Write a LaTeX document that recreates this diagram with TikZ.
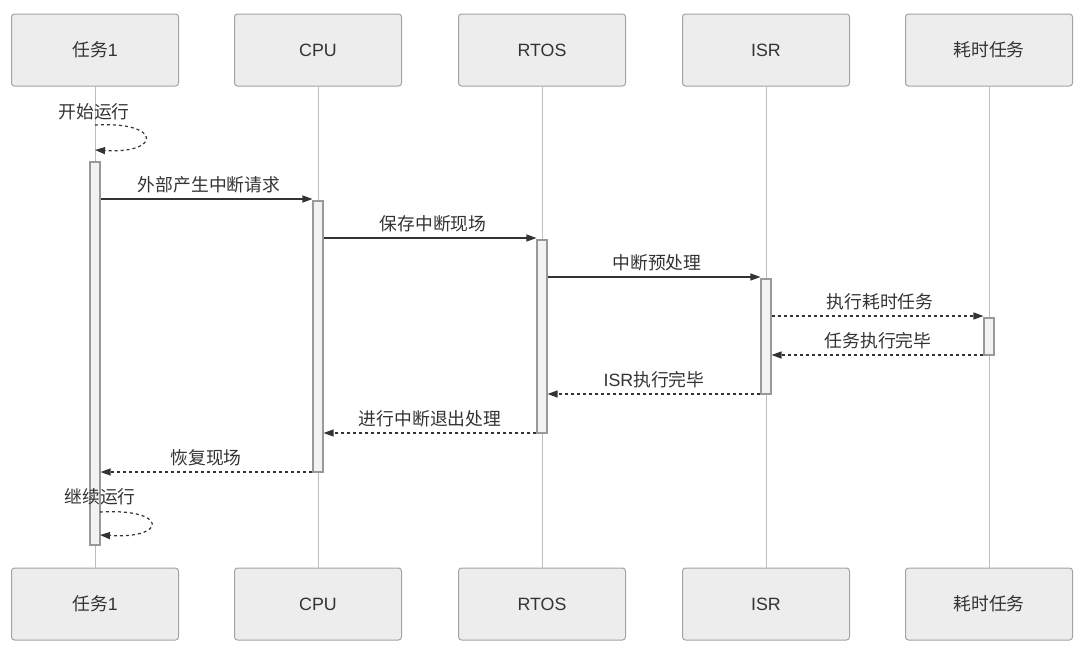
\documentclass[tikz,border=0pt]{standalone}
\usepackage{fontspec}
\setmainfont{Noto Sans CJK SC}
\newfontfamily\latinfont{Liberation Sans}
\usetikzlibrary{arrows.meta}
\definecolor{boxfill}{HTML}{EDEDED}
\definecolor{boxborder}{HTML}{A3A3A3}
\definecolor{textc}{HTML}{333333}
\definecolor{lifec}{HTML}{BDBDBD}
\definecolor{barfill}{HTML}{F2F2F2}
\definecolor{barborder}{HTML}{999999}
\definecolor{msgc}{HTML}{333333}
\tikzset{
  actor/.style={draw=boxborder, fill=boxfill, rounded corners=3pt, minimum width=167pt, minimum height=72pt, line width=1pt, font=\fontsize{17.8}{20}\selectfont, text=textc, inner sep=0pt},
  lifeline/.style={draw=lifec, line width=0.9pt},
  actbar/.style={draw=barborder, fill=barfill, line width=1.1pt, minimum width=10pt, inner sep=0pt},
  msg/.style={-{Triangle[length=10pt,width=7pt]}, draw=msgc, line width=1.2pt},
  ret/.style={msg, dash pattern=on 3pt off 3pt},
  lbl/.style={font=\fontsize{17.8}{20}\selectfont, text=textc, inner sep=0pt}
}
\begin{document}
\begin{tikzpicture}[x=1pt,y=-1pt]
\useasboundingbox (0,0) rectangle (1086,656);
% actors
\node[actor] (t1) at (95,50) {任务{\latinfont 1}};
\node[actor] (cpu) at (318,50) {\latinfont CPU};
\node[actor] (rtos) at (542,50) {\latinfont RTOS};
\node[actor] (isr) at (766,50) {\latinfont ISR};
\node[actor] (hs) at (989,50) {耗时任务};
\node[actor] (t1b) at (95,604) {任务{\latinfont 1}};
\node[actor] (cpub) at (318,604) {\latinfont CPU};
\node[actor] (rtosb) at (542,604) {\latinfont RTOS};
\node[actor] (isrb) at (766,604) {\latinfont ISR};
\node[actor] (hsb) at (989,604) {耗时任务};
% lifelines
\draw[lifeline] (t1.south) -- (t1b.north);
\draw[lifeline] (cpu.south) -- (cpub.north);
\draw[lifeline] (rtos.south) -- (rtosb.north);
\draw[lifeline] (isr.south) -- (isrb.north);
\draw[lifeline] (hs.south) -- (hsb.north);
% activation bars
\node[actbar, minimum height=383pt] (a1) at (95,353.5) {};
\node[actbar, minimum height=271pt] (a2) at (318,336.5) {};
\node[actbar, minimum height=193pt] (a3) at (542,336.5) {};
\node[actbar, minimum height=115pt] (a4) at (766,336.5) {};
\node[actbar, minimum height=37pt] (a5) at (989,336.5) {};
% self loop 1
\coordinate (s1) at (95,125);
\coordinate (e1) at (95,150);
\draw[ret] (s1) .. controls (162,121) and (162,154) .. (e1);
\node[lbl] (l0) at (94,112) {开始运行};
% messages
\draw[msg] (a1.east |- 0,199) -- (a2.west |- 0,199);
\node[lbl] (l1) at (209,185) {外部产生中断请求};
\draw[msg] (a2.east |- 0,238) -- (a3.west |- 0,238);
\node[lbl] (l2) at (433,224) {保存中断现场};
\draw[msg] (a3.east |- 0,277) -- (a4.west |- 0,277);
\node[lbl] (l3) at (657,263) {中断预处理};
\draw[ret] (a4.east |- 0,316) -- (a5.west |- 0,316);
\node[lbl] (l4) at (880,302) {执行耗时任务};
\draw[ret] (a5.west |- 0,355) -- (a4.east |- 0,355);
\node[lbl] (l5) at (878,341) {任务执行完毕};
\draw[ret] (a4.west |- 0,394) -- (a3.east |- 0,394);
\node[lbl] (l6) at (654,380) {{\latinfont ISR}执行完毕};
\draw[ret] (a3.west |- 0,433) -- (a2.east |- 0,433);
\node[lbl] (l7) at (430,419) {进行中断退出处理};
\draw[ret] (a2.west |- 0,472) -- (a1.east |- 0,472);
\node[lbl] (l8) at (206,458) {恢复现场};
% self loop 2
\coordinate (s2) at (100,512);
\coordinate (e2) at (100,535);
\draw[ret] (s2) .. controls (168,508) and (168,539) .. (e2);
\node[lbl] (l9) at (100,497) {继续运行};
\end{tikzpicture}
\end{document}
